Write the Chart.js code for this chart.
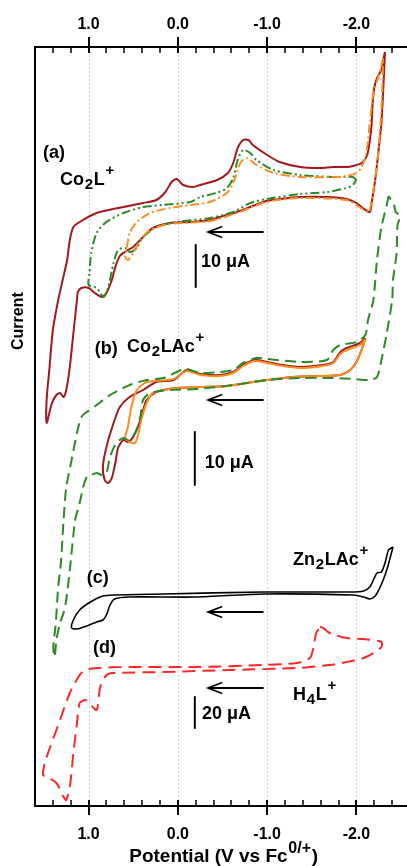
<!DOCTYPE html>
<html><head><meta charset="utf-8">
<script src="https://cdn.jsdelivr.net/npm/chart.js@4.4.1/dist/chart.umd.min.js"></script>
<style>
html,body{margin:0;padding:0;overflow:hidden;background:#fff;width:407px;height:866px;}
#wrap{width:412px;height:866px;}
canvas{display:block;}
</style></head>
<body><div id="wrap"><canvas id="c" width="412" height="866"></canvas></div>
<script>
// ---------- data (potential in V vs Fc0/+, current in arbitrary offset units) ----------
const xTickLabels = ['1.0', '0.0', '-1.0', '-2.0'];
const majorTicks = [1.0, 0.0, -1.0, -2.0];

// (a) Co2L+
const coLRedV = [-2.32,-2.30,-2.28,-2.23,-2.20,-2.18,-2.17,-2.15,-2.12,-2.06,-1.96,-1.89,-1.74,-1.59,-1.37,-1.14,-1.00,-0.84,-0.79,-0.73,-0.67,-0.62,-0.56,-0.44,-0.25,-0.17,-0.06,0.01,0.07,0.14,0.24,0.39,0.61,0.91,1.10,1.17,1.21,1.24,1.29,1.34,1.40,1.44,1.47,1.47,1.41,1.36,1.32,1.28,1.25,1.21,1.17,1.13,1.12,1.08,1.00,0.93,0.85,0.80,0.74,0.70,0.65,0.56,0.50,0.39,0.28,0.09,-0.14,-0.36,-0.47,-0.66,-0.81,-0.99,-1.14,-1.37,-1.67,-1.89,-2.00,-2.07,-2.15,-2.17,-2.21,-2.24,-2.28,-2.30,-2.32];
const coLRedI = [75.4,74.6,73.6,72.8,71.8,70.1,68.1,66.6,65.1,64.3,64.0,63.9,63.9,63.8,63.9,64.4,65.1,66.1,66.6,66.6,65.8,64.3,63.3,62.6,62.1,61.9,62.1,62.7,62.4,61.4,60.6,60.3,59.9,59.3,58.4,57.9,56.6,54.6,52.6,50.6,47.6,43.6,40.6,38.3,40.3,41.1,41.3,40.9,41.6,43.9,47.3,50.6,51.4,51.8,51.8,51.3,50.9,51.3,52.6,53.9,55.0,55.6,55.9,56.9,57.8,58.3,58.4,58.6,58.9,59.4,59.9,60.5,60.7,60.9,60.9,60.7,60.3,59.8,59.4,60.3,62.6,64.9,68.3,71.6,75.4];
const coLOrangeV = [-2.30,-2.26,-2.19,-2.15,-2.11,-2.06,-2.00,-1.89,-1.74,-1.37,-1.07,-0.88,-0.77,-0.70,-0.62,-0.55,-0.36,-0.14,0.09,0.31,0.46,0.54,0.57,0.59,0.56,0.50,0.42,0.31,0.09,-0.36,-0.66,-0.99,-1.37,-1.89,-2.07,-2.14,-2.19,-2.24,-2.28,-2.30];
const coLOrangeI = [74.8,73.3,71.3,68.3,65.3,63.9,63.3,63.0,62.9,62.9,63.3,64.1,64.8,64.3,62.3,61.3,60.4,60.1,59.8,59.3,58.4,57.3,55.9,54.9,54.6,55.3,56.6,57.6,58.2,58.5,59.3,60.4,60.8,60.6,59.7,59.4,61.6,64.9,69.6,74.8];
const coLGreenV = [-2.00,-1.96,-1.74,-1.37,-1.07,-0.88,-0.81,-0.73,-0.67,-0.62,-0.55,-0.43,-0.25,-0.14,0.17,0.39,0.61,0.80,0.91,0.97,0.99,1.00,0.91,0.83,0.78,0.72,0.67,0.59,0.54,0.46,0.39,0.24,0.01,-0.36,-0.62,-0.81,-0.99,-1.37,-1.67,-1.89,-1.96,-2.00];
const coLGreenI = [62.6,62.9,62.9,63.1,63.6,64.6,65.3,65.6,64.6,62.8,61.8,61.3,60.9,60.4,60.1,59.9,59.3,58.4,57.3,55.3,53.3,52.1,51.8,50.9,51.9,54.3,55.6,55.8,55.4,55.8,56.9,57.9,58.4,58.8,59.4,60.3,60.7,61.2,61.4,61.8,62.1,62.6];

// (b) Co2LAc+
const coLAcRedV = [-2.10,-2.04,-1.89,-1.82,-1.74,-1.62,-1.37,-1.18,-1.00,-0.86,-0.73,-0.62,-0.47,-0.25,-0.10,0.05,0.24,0.39,0.54,0.65,0.72,0.80,0.84,0.82,0.78,0.74,0.70,0.67,0.61,0.56,0.50,0.42,0.35,0.24,0.01,-0.28,-0.55,-0.77,-1.00,-1.29,-1.59,-1.82,-1.93,-2.00,-2.07,-2.10];
const coLAcRedI = [46.8,46.3,45.8,45.4,44.4,44.1,43.9,44.1,44.4,44.6,44.1,43.4,43.1,43.2,43.6,42.6,42.4,41.6,40.9,39.9,38.3,35.9,33.9,32.6,32.3,32.8,34.3,35.8,36.6,36.4,36.9,38.6,40.6,41.4,41.8,41.9,42.0,42.3,42.6,42.9,43.0,43.1,43.6,44.4,45.9,46.8];
const coLAcOrangeV = [-2.10,-2.04,-1.89,-1.82,-1.74,-1.62,-1.37,-1.18,-1.00,-0.86,-0.73,-0.62,-0.47,-0.25,-0.10,0.05,0.24,0.35,0.46,0.52,0.56,0.59,0.54,0.48,0.44,0.41,0.35,0.28,0.01,-0.28,-0.55,-0.77,-1.00,-1.29,-1.59,-1.82,-1.93,-2.00,-2.07,-2.10];
const coLAcOrangeI = [46.7,46.1,45.6,45.2,44.3,44.0,43.8,44.0,44.3,44.5,44.0,43.3,43.0,43.1,43.5,42.7,42.5,42.4,41.6,39.9,37.9,36.8,36.4,36.3,37.3,38.6,40.3,41.3,41.8,41.9,42.0,42.3,42.6,42.9,43.0,43.1,43.6,44.4,45.9,46.7];
const coLAcGreenV = [-2.36,-2.34,-2.28,-2.23,-2.19,-2.13,-2.10,-2.00,-1.82,-1.74,-1.67,-1.37,-1.00,-0.88,-0.73,-0.62,-0.47,-0.25,-0.08,0.16,0.35,0.54,0.76,0.91,1.02,1.08,1.13,1.19,1.25,1.28,1.31,1.34,1.37,1.395,1.38,1.36,1.32,1.28,1.25,1.21,1.15,1.10,1.06,1.02,0.97,0.91,0.85,0.80,0.76,0.69,0.61,0.56,0.52,0.46,0.42,0.39,0.31,0.09,-0.21,-0.62,-1.00,-1.37,-1.74,-1.97,-2.15,-2.23,-2.28,-2.34,-2.40,-2.41,-2.45,-2.46,-2.49,-2.44,-2.42,-2.36];
const coLAcGreenI = [61.0,60.1,57.9,54.6,50.6,48.6,47.1,46.4,46.1,45.6,44.6,44.4,44.7,44.8,44.3,43.6,43.4,43.3,43.7,42.8,42.6,42.1,41.1,40.1,39.4,38.9,37.3,34.6,31.9,28.6,24.3,21.9,18.0,15.9,14.9,16.6,18.3,19.3,20.6,23.6,28.6,30.3,31.9,32.9,33.1,33.3,33.1,33.3,34.9,36.3,36.8,36.6,36.8,37.6,38.9,40.6,41.3,41.6,41.7,42.1,42.6,42.8,42.8,42.7,42.6,42.9,44.6,47.3,50.6,52.6,55.3,58.1,59.0,59.4,60.1,61.0];

// (c) Zn2LAc+
const znV = [-2.41,-2.36,-2.32,-2.28,-2.23,-2.19,-2.15,-2.08,-1.93,-0.96,0.16,0.72,0.84,0.98,1.10,1.17,1.19,1.13,1.02,0.91,0.84,0.80,0.76,0.71,0.54,-0.21,-0.96,-1.97,-2.08,-2.15,-2.21,-2.25,-2.30,-2.34,-2.38,-2.41];
const znI = [25.9,25.6,24.3,23.4,23.3,22.6,21.9,21.5,21.4,21.4,21.2,21.1,21.0,20.4,19.6,18.6,17.8,17.7,18.0,18.4,18.6,19.1,20.1,20.7,20.9,20.9,21.2,21.1,20.9,20.7,21.0,21.6,22.6,23.6,24.9,25.9];

// (d) H4L+
const hLV = [-1.59,-1.63,-1.70,-1.89,-2.08,-2.28,-2.28,-2.19,-2.08,-1.89,-1.70,-1.33,-0.58,0.16,0.72,0.80,0.87,0.91,1.00,1.04,1.10,1.13,1.17,1.21,1.25,1.28,1.36,1.47,1.51,1.49,1.43,1.32,1.21,1.10,1.04,0.91,0.54,-0.21,-0.96,-1.33,-1.48,-1.52,-1.55,-1.59];
const hLI = [17.9,17.8,17.3,16.8,16.7,16.4,15.9,15.3,14.8,14.4,14.1,13.8,13.6,13.4,13.3,13.1,11.9,9.6,10.4,10.6,10.3,8.3,5.3,1.9,0.6,0.9,2.3,2.9,3.1,4.3,5.9,8.6,11.3,13.1,13.6,13.8,13.9,13.9,14.1,14.3,14.8,15.9,17.3,17.9];

// annotations
const panelLabels = ['(a)', '(b)', '(c)', '(d)'];
const panelLabelV = [1.51, 0.93, 1.02, 0.95];
const panelLabelI = [65.3, 45.7, 22.8, 15.8];
const compoundParts = [
  [['Co',0],['2',-1],['L',0],['+',1]],
  [['Co',0],['2',-1],['LAc',0],['+',1]],
  [['Zn',0],['2',-1],['LAc',0],['+',1]],
  [['H',0],['4',-1],['L',0],['+',1]]
];
const compoundV = [1.32, 0.57, -1.29, -1.29];
const compoundI = [62.6, 45.9, 24.6, 11.1];
const arrowStartV = -0.96, arrowEndV = -0.34;
const arrowI = [57.4, 40.6, 19.4, 11.8];
const scaleBarText = ['10 \u03bcA', '10 \u03bcA', '20 \u03bcA'];
const scaleBarV = [-0.20, -0.19, -0.19];
const scaleBarTopI = [56.1, 37.4, 10.9];
const scaleBarBottomI = [51.9, 32.1, 7.8];
const scaleTextV = [-0.26, -0.30, -0.27];
const scaleTextI = [54.4, 34.3, 9.2];
const xTitleParts = [['Potential (V vs Fc',0],['0/+',1],[')',0]];
const yTitle = 'Current';

// ---------- chart ----------
const FONT = '"Liberation Sans", Arial, Helvetica, sans-serif';
const DARKRED = '#A0191C', ORANGE = '#FF8C1F', GREEN = '#2C8A26', RED = '#FF2626';
const zip = (V, I) => V.map((v, k) => ({x: v, y: I[k]}));
function curve(label, V, I, color, width, dash, order, tension) {
  return {label, data: zip(V, I), borderColor: color, backgroundColor: color, borderWidth: width,
    borderDash: dash, pointRadius: 0, showLine: true, fill: false,
    tension: tension === undefined ? 0.25 : tension, order, borderJoinStyle: 'round'};
}
const datasets = [
  curve('Co2L+ scan 1', coLRedV, coLRedI, DARKRED, 2, [], 6),
  curve('Co2L+ scan 2', coLGreenV, coLGreenI, GREEN, 2, [9,3,2,3,2,3], 5),
  curve('Co2L+ scan 3', coLOrangeV, coLOrangeI, ORANGE, 2, [9,3,2,3], 4),
  curve('Co2LAc+ scan 1', coLAcRedV, coLAcRedI, DARKRED, 2, [], 6),
  curve('Co2LAc+ scan 2', coLAcOrangeV, coLAcOrangeI, ORANGE, 2, [], 5),
  curve('Co2LAc+ scan 3', coLAcGreenV, coLAcGreenI, GREEN, 2, [11,6], 3),
  curve('Zn2LAc+', znV, znI, '#000000', 1.6, [], 3),
  curve('H4L+', hLV, hLI, RED, 2, [13,7], 3),
];
// arrows and scale bars as short line segments in data space
arrowI.forEach(i => datasets.push(curve('arrow', [arrowStartV, arrowEndV], [i, i], '#000', 1.8, [], 0, 0)));
scaleBarV.forEach((v, k) => datasets.push(curve('scale bar', [v, v], [scaleBarTopI[k], scaleBarBottomI[k]], '#000', 2, [], 0, 0)));

function tickLabel(v) {
  const r = Math.round(v);
  if (Math.abs(v - r) < 1e-6) { const idx = majorTicks.indexOf(r); return idx >= 0 ? xTickLabels[idx] : ''; }
  return '';
}
const xAxisBase = {
  type: 'linear', min: -2.6, max: 1.6, reverse: true,
  grid: {display: false, drawTicks: false}, border: {display: false},
  ticks: {stepSize: 0.2, autoSkip: false, maxRotation: 0, color: '#000',
    font: {family: FONT, size: 16, weight: 'bold'}, callback: tickLabel}
};

function drawParts(ctx, parts, X, Y, size) {
  let cx = X;
  parts.forEach(([t, kind]) => {
    const fs = kind === 0 ? size : Math.round(size * 0.82);
    const dy = kind === -1 ? size * 0.28 : (kind === 1 ? -size * 0.5 : 0);
    ctx.font = `bold ${fs}px ${FONT}`;
    ctx.fillText(t, cx, Y + dy);
    cx += ctx.measureText(t).width + 0.7;
  });
  return cx - X;
}
function partsWidth(ctx, parts, size) {
  let w = 0;
  parts.forEach(([t, kind]) => {
    const fs = kind === 0 ? size : Math.round(size * 0.82);
    ctx.font = `bold ${fs}px ${FONT}`;
    w += ctx.measureText(t).width + 0.7;
  });
  return w;
}

const decor = {
  id: 'decor',
  beforeDatasetsDraw(chart) {
    const {ctx, chartArea: a, scales: {x}} = chart;
    ctx.save();
    ctx.strokeStyle = '#c4c4c4'; ctx.lineWidth = 1; ctx.setLineDash([1.5, 2.5]);
    majorTicks.forEach(v => {
      const X = Math.round(x.getPixelForValue(v)) + 0.5;
      ctx.beginPath(); ctx.moveTo(X, a.top); ctx.lineTo(X, a.bottom); ctx.stroke();
    });
    ctx.restore();
  },
  afterDatasetsDraw(chart) {
    const {ctx, chartArea: a, scales: {x, y}} = chart;
    ctx.save();
    ctx.strokeStyle = '#000'; ctx.setLineDash([]);
    ctx.lineWidth = 2;
    ctx.beginPath();
    ctx.moveTo(a.right, a.top); ctx.lineTo(a.left, a.top); ctx.lineTo(a.left, a.bottom); ctx.lineTo(a.right, a.bottom);
    ctx.stroke();
    x.ticks.forEach(t => {
      const X = Math.round(x.getPixelForValue(t.value));
      const major = Math.abs(t.value - Math.round(t.value)) < 1e-6;
      ctx.lineWidth = major ? 2 : 1.5;
      ctx.beginPath();
      ctx.moveTo(X, a.top - (major ? 10 : 0)); ctx.lineTo(X, a.top + 6);
      ctx.moveTo(X, a.bottom - 6); ctx.lineTo(X, a.bottom + (major ? 9 : 0));
      ctx.stroke();
    });
    ctx.lineWidth = 1.8;
    arrowI.forEach(i => {
      const X = x.getPixelForValue(arrowEndV), Y = y.getPixelForValue(i);
      ctx.beginPath(); ctx.moveTo(X + 14, Y - 5.5); ctx.lineTo(X, Y); ctx.lineTo(X + 14, Y + 5.5); ctx.stroke();
    });
    ctx.fillStyle = '#000'; ctx.textBaseline = 'middle'; ctx.textAlign = 'left';
    ctx.font = `bold 18px ${FONT}`;
    panelLabels.forEach((t, k) => ctx.fillText(t, x.getPixelForValue(panelLabelV[k]), y.getPixelForValue(panelLabelI[k])));
    compoundParts.forEach((p, k) => drawParts(ctx, p, x.getPixelForValue(compoundV[k]), y.getPixelForValue(compoundI[k]), 18));
    ctx.font = `bold 18px ${FONT}`;
    scaleBarText.forEach((t, k) => ctx.fillText(t, x.getPixelForValue(scaleTextV[k]), y.getPixelForValue(scaleTextI[k])));
    ctx.textBaseline = 'alphabetic';
    const tw = partsWidth(ctx, xTitleParts, 19);
    drawParts(ctx, xTitleParts, 224 - tw / 2, 862, 19);
    ctx.save();
    ctx.translate(23, 350); ctx.rotate(-Math.PI / 2);
    ctx.font = `bold 16px ${FONT}`; ctx.textAlign = 'left';
    ctx.fillText(yTitle, 0, 0);
    ctx.restore();
    ctx.restore();
  }
};

const zeroPad = s => { s.paddingLeft = 0; s.paddingRight = 0; };
new Chart(document.getElementById('c'), {
  type: 'scatter',
  data: {datasets},
  options: {
    responsive: false, animation: false, devicePixelRatio: 1,
    layout: {autoPadding: false, padding: {left: 35, right: 2, top: 0, bottom: 0}},
    plugins: {legend: {display: false}, tooltip: {enabled: false}},
    scales: {
      x: Object.assign({}, xAxisBase, {position: 'bottom', ticks: Object.assign({}, xAxisBase.ticks, {padding: 19}), afterFit: s => { s.height = 60; zeroPad(s); }}),
      x2: Object.assign({}, xAxisBase, {position: 'top', axis: 'x', ticks: Object.assign({}, xAxisBase.ticks, {padding: 13}), afterFit: s => { s.height = 47; zeroPad(s); }}),
      y: {type: 'linear', min: 0, max: 75.9, display: false, afterFit: s => { s.width = 0; }}
    }
  },
  plugins: [decor]
});
</script>
</body></html>
